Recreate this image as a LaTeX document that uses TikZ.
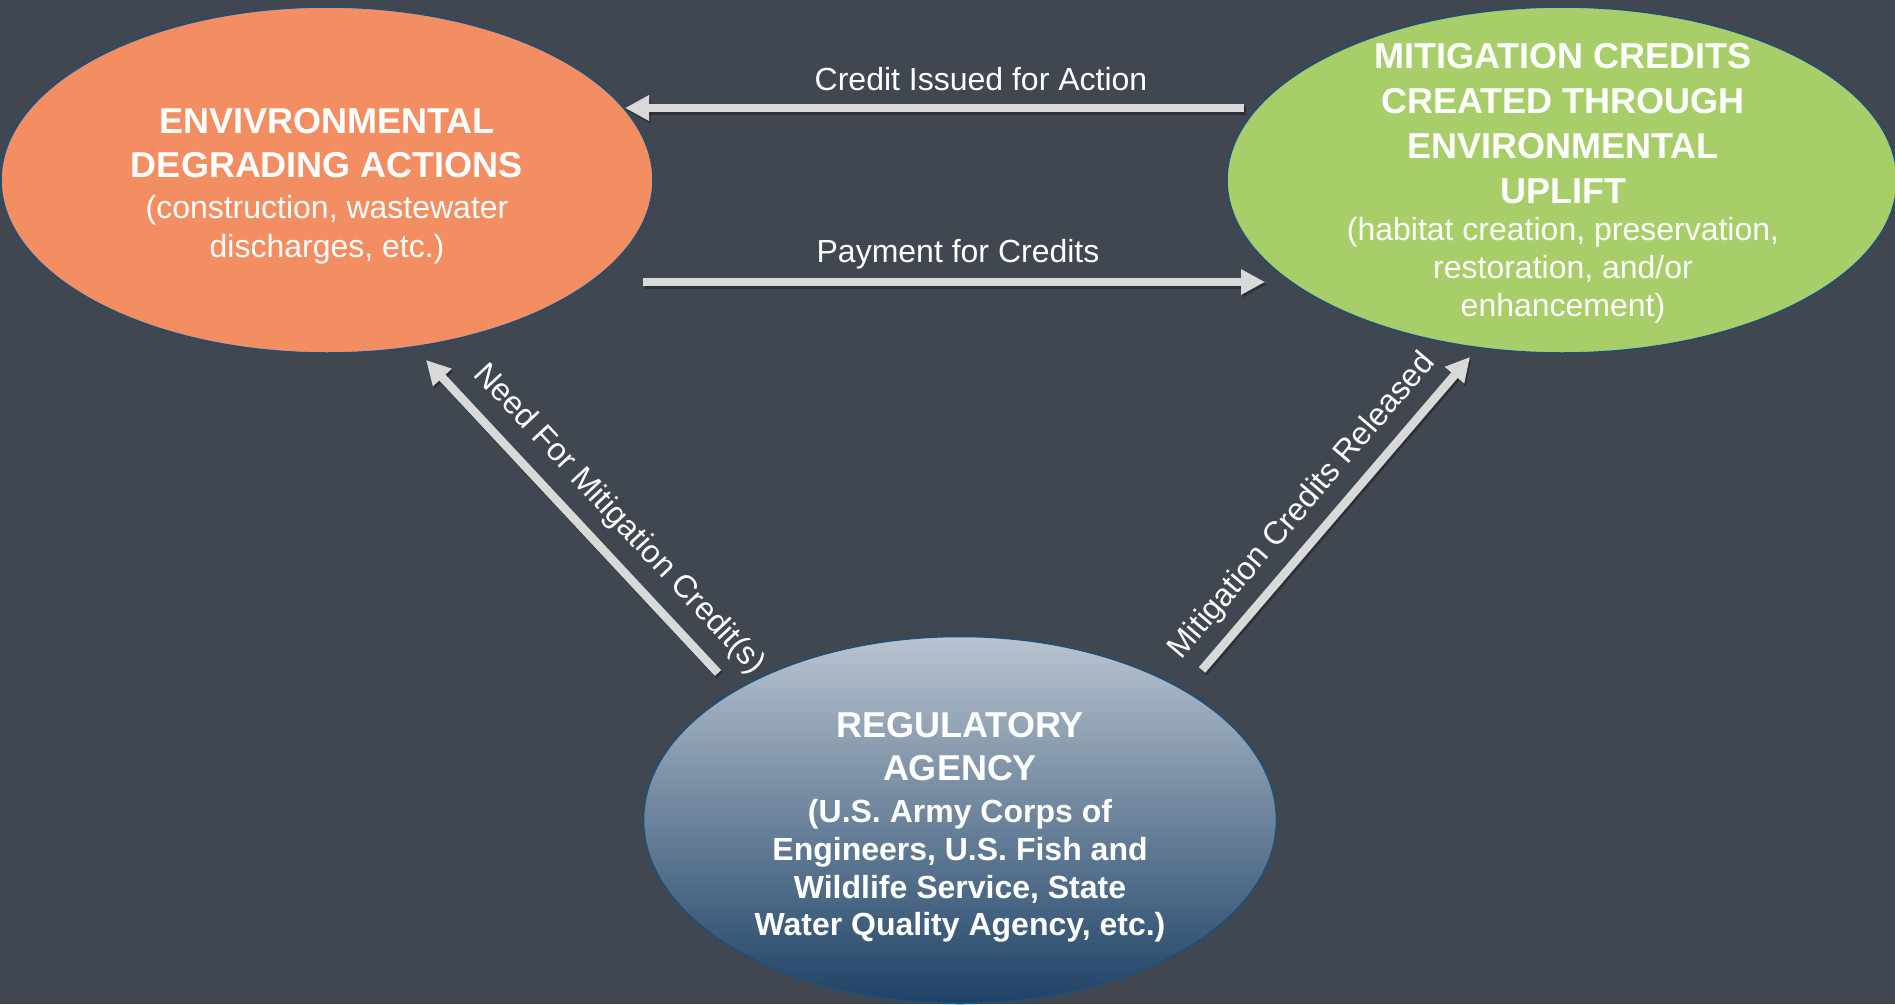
\documentclass[tikz,border=0pt]{standalone}
\usepackage{fontspec}
\setmainfont{Liberation Sans}
\usetikzlibrary{arrows.meta,calc,shapes.geometric}

\definecolor{bgslate}{RGB}{65,71,80}
\definecolor{degradefill}{RGB}{242,142,98}
\definecolor{upliftfill}{RGB}{168,206,106}
\definecolor{rimblue}{RGB}{31,78,121}
\definecolor{agencytop}{RGB}{185,196,208}
\definecolor{agencymid}{RGB}{128,144,162}
\definecolor{agencybot}{RGB}{30,66,102}
\definecolor{flowgray}{RGB}{217,217,217}

\begin{document}
\begin{tikzpicture}[x=1pt,y=-1pt,
  blob/.style={ellipse, draw=rimblue, line width=1.5pt, inner sep=0pt},
  head/.style={text=white, inner sep=0pt, anchor=base, font=\fontsize{36}{44}\selectfont\bfseries},
  body/.style={text=white, inner sep=0pt, anchor=base, font=\fontsize{32}{39}\selectfont},
  bodybold/.style={text=white, inner sep=0pt, anchor=base, font=\fontsize{32}{39}\selectfont\bfseries},
  tag/.style={text=white, inner sep=0pt, font=\fontsize{32}{39}\selectfont},
  flow/.style={draw=flowgray, line width=8.5pt, -{Triangle[width=24pt,length=24pt]}},
  flowshade/.style={draw=black, opacity=.3, line width=8.5pt,
    -{Triangle[width=24pt,length=24pt]}, transform canvas={shift={(1.5pt,-2.5pt)}}},
]

% backdrop
\fill[bgslate] (0,0) rectangle (1895,1004);
\useasboundingbox (0,0) rectangle (1895,1004);
\clip (0,0) rectangle (1895,1004);

% the three parties
\node[blob, fill=degradefill, minimum width=652pt, minimum height=346pt] (degrade) at (327,180) {};
\node[blob, fill=upliftfill, minimum width=670pt, minimum height=346pt] (uplift) at (1562,180) {};
\node[blob, top color=agencytop, middle color=agencymid, bottom color=agencybot,
      minimum width=633pt, minimum height=367pt] (agency) at (960,820) {};

% degrading actions
\node[head] (d1) at (327,133) {ENVIVRONMENTAL};
\node[head] (d2) at (327,177) {DEGRADING ACTIONS};
\node[body] (d3) at (327,218) {(construction, wastewater};
\node[body] (d4) at (327,257) {discharges, etc.)};

% credits from uplift
\node[head] (u1) at (1563,68) {MITIGATION CREDITS};
\node[head] (u2) at (1563,113) {CREATED THROUGH};
\node[head] (u3) at (1563,158) {ENVIRONMENTAL};
\node[head] (u4) at (1563,203) {UPLIFT};
\node[body] (u5) at (1563,240) {(habitat creation, preservation,};
\node[body] (u6) at (1563,278) {restoration, and/or};
\node[body] (u7) at (1563,316) {enhancement)};

% regulator
\node[head] (a1) at (960,737) {REGULATORY};
\node[head] (a2) at (960,780) {AGENCY};
\node[bodybold] (a3) at (960,822) {(U.S. Army Corps of};
\node[bodybold] (a4) at (960,860) {Engineers, U.S. Fish and};
\node[bodybold] (a5) at (960,898) {Wildlife Service, State};
\node[bodybold] (a6) at (960,935) {Water Quality Agency, etc.)};

% credit issued
\draw[flowshade] ($(uplift.center)+(-318,-72)$) -- ($(degrade.center)+(298,-72)$);
\draw[flow] ($(uplift.center)+(-318,-72)$) -- ($(degrade.center)+(298,-72)$);
\node[tag, anchor=base] (creditlbl) at (981,90) {Credit Issued for Action};

% payment
\draw[flowshade] ($(degrade.center)+(316,102)$) -- ($(uplift.center)+(-297,102)$);
\draw[flow] ($(degrade.center)+(316,102)$) -- ($(uplift.center)+(-297,102)$);
\node[tag, anchor=base] (paylbl) at (958,262) {Payment for Credits};

% need for mitigation
\draw[flowshade] ($(agency.center)+(-242,-147)$) -- ($(degrade.center)+(99,180)$);
\draw[flow] ($(agency.center)+(-242,-147)$)
  -- node[tag, sloped, above=13pt, pos=0.42] (needlbl) {Need For Mitigation Credit(s)}
  ($(degrade.center)+(99,180)$);

% credits released
\draw[flowshade] ($(agency.center)+(242,-150)$) -- ($(uplift.center)+(-92,177)$);
\draw[flow] ($(agency.center)+(242,-150)$)
  -- node[tag, sloped, above=11pt, pos=0.46] (releasedlbl) {Mitigation Credits Released}
  ($(uplift.center)+(-92,177)$);

\end{tikzpicture}
\end{document}
